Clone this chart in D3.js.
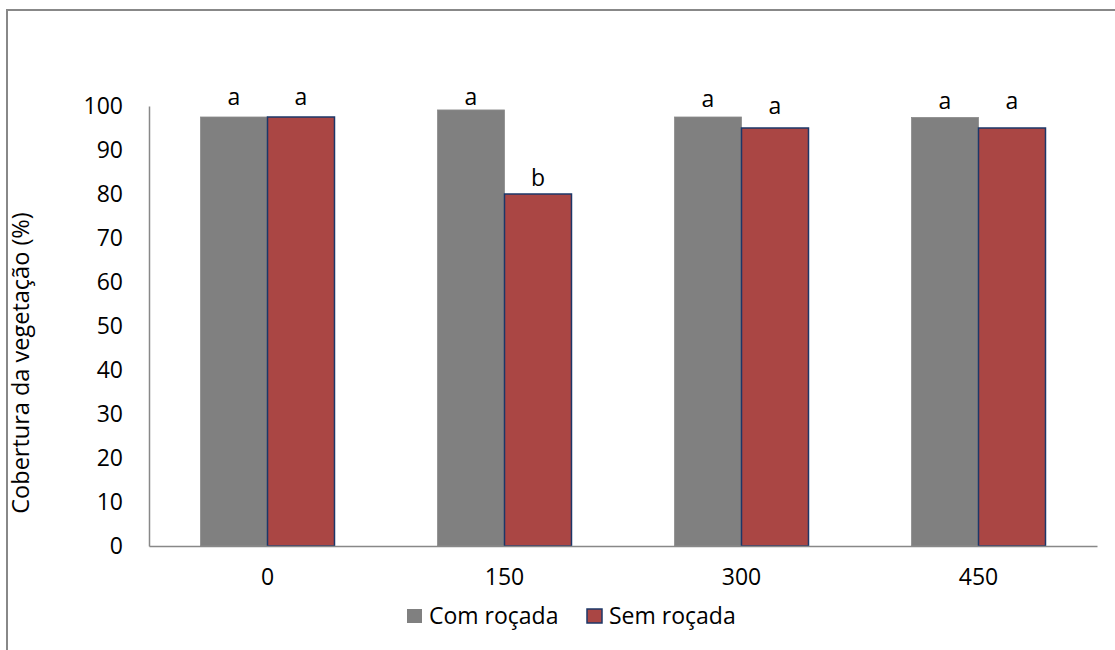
<!DOCTYPE html>
<html>
<head>
<meta charset="utf-8">
<script src="https://cdn.jsdelivr.net/npm/d3@7"></script>
<style>
  html, body { margin: 0; padding: 0; background: #fff; }
  svg { display: block; }
  text { font-family: "Open Sans", "Liberation Sans", sans-serif; fill: #000; }
</style>
</head>
<body>
<svg id="chart" width="1115" height="650"></svg>
<script>
// ---- data ----
const categories = ["0", "150", "300", "450"];
const seriesNames = ["Com roçada", "Sem roçada"];
const comRocada = [97.5, 99.1, 97.5, 97.4];
const semRocada = [97.5, 80.0, 95.0, 95.0];
const comLetters = ["a", "a", "a", "a"];
const semLetters = ["a", "b", "a", "a"];
// label baseline positions (in axis units), as placed in the original
const comLabelAt = [100.3, 100.3, 99.8, 99.3];
const semLabelAt = [100.3, 81.8, 98.2, 99.3];
const yTicks = [0, 10, 20, 30, 40, 50, 60, 70, 80, 90, 100];
const yTitle = "Cobertura da vegetação (%)";

const colors = ["#808080", "#AA4644"];
const strokes = ["#8a8a8a", "#1c3768"];
const FS = "23px";

const svg = d3.select("#chart");
const W = 1115, H = 650;
const plot = { left: 149, right: 1097, top: 106, bottom: 546 };

// outer border
svg.append("rect")
  .attr("x", 7).attr("y", 10)
  .attr("width", W + 20).attr("height", H + 20)
  .attr("fill", "none").attr("stroke", "#888").attr("stroke-width", 2);

const x0 = d3.scaleBand().domain(categories)
  .range([plot.left, plot.right])
  .paddingInner(0.4346).paddingOuter(0.2173);
const x1 = d3.scaleBand().domain(seriesNames)
  .range([0, x0.bandwidth()]).padding(0);
const y = d3.scaleLinear().domain([0, 100]).range([plot.bottom, plot.top]);

const rows = categories.map((c, i) => ({
  cat: c,
  vals: [
    { s: seriesNames[0], v: comRocada[i], lab: comLetters[i], at: comLabelAt[i], k: 0 },
    { s: seriesNames[1], v: semRocada[i], lab: semLetters[i], at: semLabelAt[i], k: 1 }
  ]
}));

// y axis (labels only + line)
const yAxis = d3.axisLeft(y).tickValues(yTicks).tickSize(0).tickPadding(26);
const gy = svg.append("g").attr("transform", `translate(${plot.left},0)`).call(yAxis);
gy.select(".domain").attr("stroke", "#888").attr("stroke-width", 1.5);
gy.selectAll("text").style("font-size", FS).attr("fill", "#000")
  .style("font-family", "'Open Sans', sans-serif");

// bars
const groups = svg.append("g").selectAll("g").data(rows).join("g")
  .attr("transform", d => `translate(${x0(d.cat)},0)`);

groups.selectAll("rect").data(d => d.vals).join("rect")
  .attr("x", d => x1(d.s))
  .attr("y", d => y(d.v))
  .attr("width", x1.bandwidth())
  .attr("height", d => y(0) - y(d.v))
  .attr("fill", d => colors[d.k])
  .attr("stroke", d => strokes[d.k])
  .attr("stroke-width", d => d.k === 1 ? 1.5 : 0.8);

groups.selectAll("text.lab").data(d => d.vals).join("text")
  .attr("class", "lab")
  .attr("x", d => x1(d.s) + x1.bandwidth() / 2)
  .attr("y", d => y(d.at))
  .attr("text-anchor", "middle")
  .style("font-size", FS)
  .text(d => d.lab);

// x axis
const xAxis = d3.axisBottom(x0).tickSize(0).tickPadding(23);
const gx = svg.append("g").attr("transform", `translate(0,${plot.bottom})`).call(xAxis);
gx.select(".domain").attr("stroke", "#888").attr("stroke-width", 1.5);
gx.selectAll("text").style("font-size", FS).attr("fill", "#000")
  .style("font-family", "'Open Sans', sans-serif");

// y title
svg.append("text")
  .attr("transform", `translate(29,363) rotate(-90)`)
  .attr("text-anchor", "middle")
  .style("font-size", "23.5px")
  .text(yTitle);

// legend
const legendX = [407, 587];
const leg = svg.append("g").selectAll("g").data(seriesNames).join("g")
  .attr("transform", (d, i) => `translate(${legendX[i]},609)`);
leg.append("rect")
  .attr("width", 15).attr("height", 14)
  .attr("fill", (d, i) => colors[i])
  .attr("stroke", (d, i) => i === 1 ? strokes[1] : "none")
  .attr("stroke-width", 1.5);
leg.append("text")
  .attr("x", 22).attr("y", 15)
  .style("font-size", FS)
  .text(d => d);
</script>
</body>
</html>
